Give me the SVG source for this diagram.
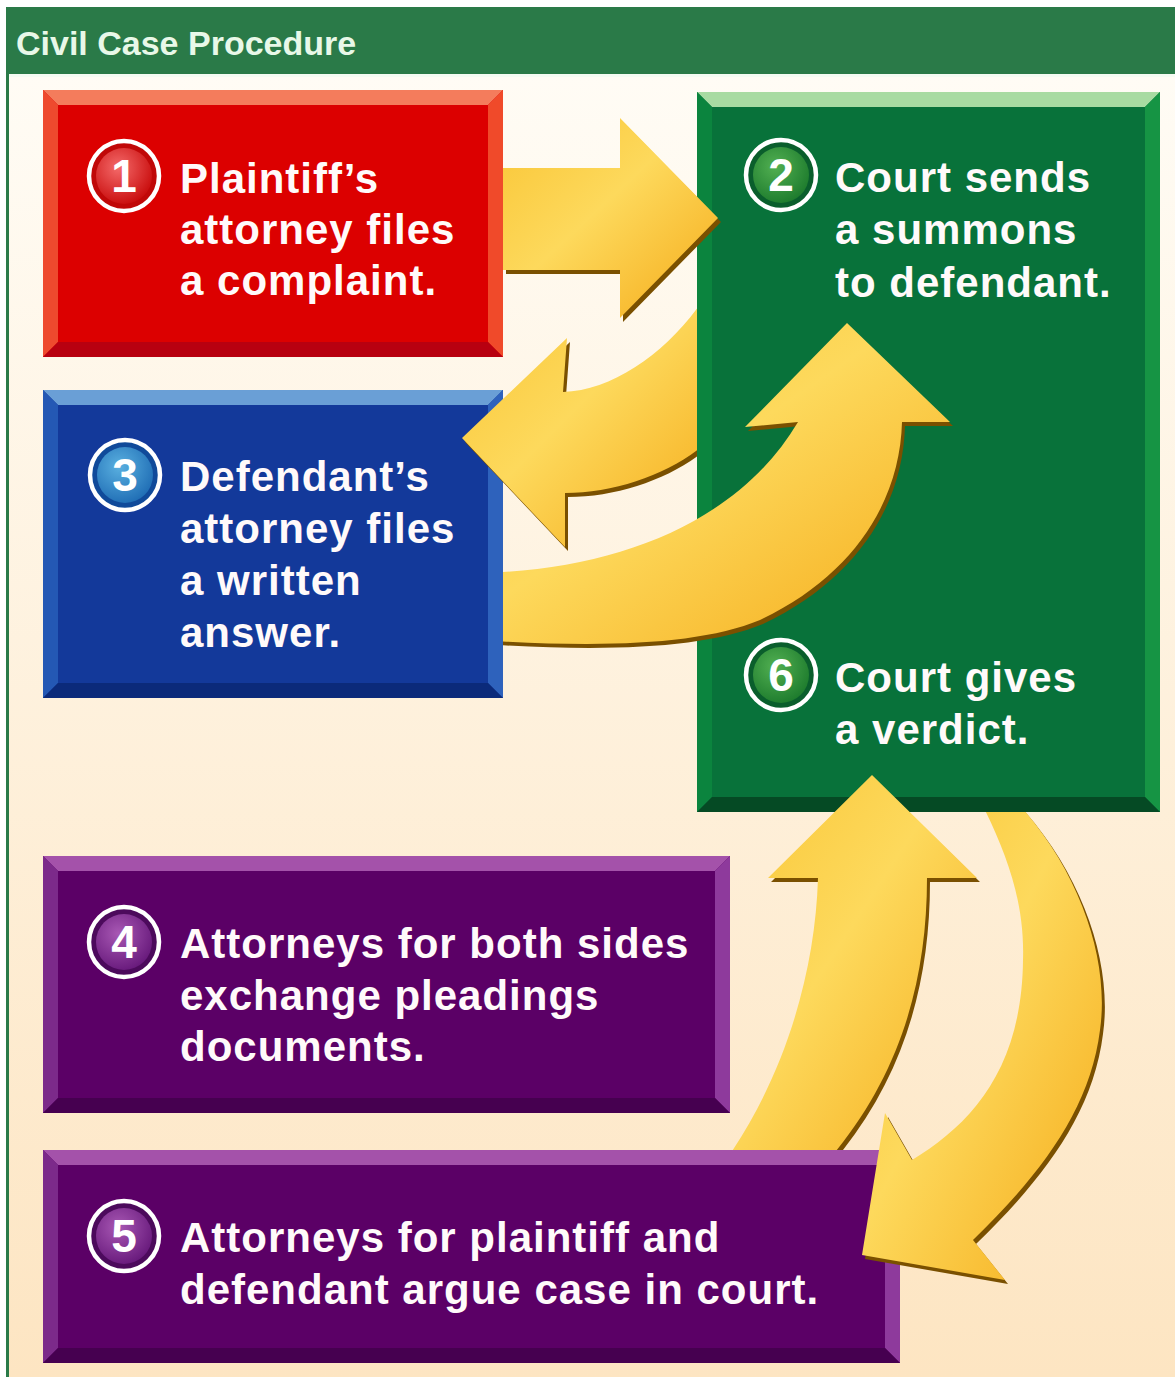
<svg xmlns="http://www.w3.org/2000/svg" xmlns:xlink="http://www.w3.org/1999/xlink" width="1175" height="1377" viewBox="0 0 1175 1377">
<defs>
<style>
.t{font-family:"Liberation Sans",Arial,sans-serif;font-weight:bold;font-size:42px;fill:#fffafa;letter-spacing:1px}
.n{font-family:"Liberation Sans",Arial,sans-serif;font-weight:bold;font-size:46px;fill:#ffffff;text-anchor:middle}
.ttl{font-family:"Liberation Sans",Arial,sans-serif;font-weight:bold;font-size:34px;fill:#e8f8e8}
.ring{stroke:#ffffff;stroke-width:4.5}
.gold{fill:url(#goldG)}
.shd{fill:#7a5000}
.rf{fill:#dc0000}.rt{fill:#f47c5c}.rl{fill:#ee4a2e}.rr{fill:#f04a2a}.rb{fill:#b80010}
.gf{fill:#08723a}.gt{fill:#a8dba2}.gl{fill:#0b843e}.gr{fill:#169444}.gb{fill:#054a24}
.bf{fill:#13399a}.bt{fill:#6a9fd6}.bl{fill:#2458b4}.br{fill:#2e62bc}.bb{fill:#0b2a7a}
.pf{fill:#5b0066}.pt{fill:#a452aa}.pl{fill:#7c2a8a}.pr{fill:#8e3a9c}.pb{fill:#460050}
</style>
<linearGradient id="bgG" x1="0" y1="0" x2="0" y2="1">
<stop offset="0" stop-color="#fffcf5"/><stop offset="1" stop-color="#fde5c2"/>
</linearGradient>
<linearGradient id="goldG" x1="0" y1="0" x2="1" y2="1">
<stop offset="0" stop-color="#f9c535"/><stop offset="0.45" stop-color="#fdd95c"/><stop offset="1" stop-color="#f5aa18"/>
</linearGradient>
<radialGradient id="cR" cx="0.4" cy="0.35" r="0.7"><stop offset="0" stop-color="#f46a6a"/><stop offset="1" stop-color="#c80a0a"/></radialGradient>
<radialGradient id="cG" cx="0.4" cy="0.35" r="0.7"><stop offset="0" stop-color="#52b052"/><stop offset="1" stop-color="#1c7a2c"/></radialGradient>
<radialGradient id="cB" cx="0.4" cy="0.35" r="0.7"><stop offset="0" stop-color="#5ab0e0"/><stop offset="1" stop-color="#1e6cb4"/></radialGradient>
<radialGradient id="cP" cx="0.4" cy="0.35" r="0.7"><stop offset="0" stop-color="#a858b4"/><stop offset="1" stop-color="#66187a"/></radialGradient>
<clipPath id="clipB"><rect x="0" y="0" width="697" height="1377"/></clipPath>
<clipPath id="clipC"><rect x="503" y="0" width="672" height="1377"/></clipPath>
<clipPath id="clipD"><rect x="0" y="0" width="1175" height="1150"/></clipPath>
<clipPath id="clipE"><rect x="0" y="812" width="1175" height="565"/></clipPath>
<path id="pA" d="M503,168 L620,168 L620,118 L718,218 L620,318 L620,270 L503,270 Z"/>
<path id="pB" d="M462,438 L567,338 L563,392 C615,390 670,350 705,297 L712,437 C680,470 620,493 565,493 L565,547 Z"/>
<path id="pC" d="M480,573 C620,570 740,520 798,422 L745,427 L847,323 L950,422 L902,422 C900,500 855,575 760,620 C700,645 600,648 480,640 Z"/>
<path id="pD" d="M872,775 L977,878 L927,878 C927,990 895,1090 815,1175 L715,1175 C780,1090 815,980 818,878 L768,878 Z"/>
<path id="pE" d="M980,800 L1015,800 C1080,870 1110,960 1100,1030 C1090,1110 1040,1175 973,1240 L1005,1280 L862,1255 L885,1113 L912,1160 C970,1125 1022,1070 1023,960 C1025,900 1005,850 980,800 Z"/>
</defs>

<rect x="0" y="0" width="1175" height="1377" fill="#ffffff"/>
<rect x="9" y="75" width="1166" height="1302" fill="url(#bgG)"/>
<rect x="6" y="7" width="3" height="1370" fill="#2a7a48"/>
<rect x="6" y="7" width="1169" height="67" fill="#2a7a48"/>
<rect x="9" y="74" width="1166" height="3" fill="#f4fbf2"/>
<text class="ttl" x="16" y="55">Civil Case Procedure</text>

<g id="node1">
<rect class="rf" x="43" y="90" width="460" height="267"/>
<polygon class="rt" points="43,90 503,90 488,105 58,105"/>
<polygon class="rl" points="43,90 58,105 58,342 43,357"/>
<polygon class="rr" points="503,90 503,357 488,342 488,105"/>
<polygon class="rb" points="43,357 503,357 488,342 58,342"/>
<circle class="ring" cx="124" cy="176" r="35" fill="#c00808"/>
<circle cx="124" cy="176" r="28" fill="url(#cR)"/>
<text class="n" x="124" y="192">1</text>
<text class="t" x="180" y="193">Plaintiff’s</text>
<text class="t" x="180" y="244">attorney files</text>
<text class="t" x="180" y="295">a complaint.</text>
</g>

<g id="node3">
<rect class="bf" x="43" y="390" width="460" height="308"/>
<polygon class="bt" points="43,390 503,390 488,405 58,405"/>
<polygon class="bl" points="43,390 58,405 58,683 43,698"/>
<polygon class="br" points="503,390 503,698 488,683 488,405"/>
<polygon class="bb" points="43,698 503,698 488,683 58,683"/>
<circle class="ring" cx="125" cy="475" r="35" fill="#104a9a"/>
<circle cx="125" cy="475" r="28" fill="url(#cB)"/>
<text class="n" x="125" y="491">3</text>
<text class="t" x="180" y="491">Defendant’s</text>
<text class="t" x="180" y="543">attorney files</text>
<text class="t" x="180" y="595">a written</text>
<text class="t" x="180" y="647">answer.</text>
</g>

<g id="node2">
<rect class="gf" x="697" y="92" width="463" height="720"/>
<polygon class="gt" points="697,92 1160,92 1145,107 712,107"/>
<polygon class="gl" points="697,92 712,107 712,797 697,812"/>
<polygon class="gr" points="1160,92 1160,812 1145,797 1145,107"/>
<polygon class="gb" points="697,812 1160,812 1145,797 712,797"/>
<circle class="ring" cx="781" cy="175" r="35" fill="#0a5e2c"/>
<circle cx="781" cy="175" r="28" fill="url(#cG)"/>
<text class="n" x="781" y="191">2</text>
<text class="t" x="835" y="192">Court sends</text>
<text class="t" x="835" y="244">a summons</text>
<text class="t" x="835" y="297">to defendant.</text>
</g>

<g id="node6">
<circle class="ring" cx="781" cy="675" r="35" fill="#0a5e2c"/>
<circle cx="781" cy="675" r="28" fill="url(#cG)"/>
<text class="n" x="781" y="691">6</text>
<text class="t" x="835" y="692">Court gives</text>
<text class="t" x="835" y="744">a verdict.</text>
</g>

<g id="node4">
<rect class="pf" x="43" y="856" width="687" height="257"/>
<polygon class="pt" points="43,856 730,856 715,871 58,871"/>
<polygon class="pl" points="43,856 58,871 58,1098 43,1113"/>
<polygon class="pr" points="730,856 730,1113 715,1098 715,871"/>
<polygon class="pb" points="43,1113 730,1113 715,1098 58,1098"/>
<circle class="ring" cx="124" cy="942" r="35" fill="#4c0a5c"/>
<circle cx="124" cy="942" r="28" fill="url(#cP)"/>
<text class="n" x="124" y="958">4</text>
<text class="t" x="180" y="958">Attorneys for both sides</text>
<text class="t" x="180" y="1010">exchange pleadings</text>
<text class="t" x="180" y="1061">documents.</text>
</g>

<g id="node5">
<rect class="pf" x="43" y="1150" width="857" height="213"/>
<polygon class="pt" points="43,1150 900,1150 885,1165 58,1165"/>
<polygon class="pl" points="43,1150 58,1165 58,1348 43,1363"/>
<polygon class="pr" points="900,1150 900,1363 885,1348 885,1165"/>
<polygon class="pb" points="43,1363 900,1363 885,1348 58,1348"/>
<circle class="ring" cx="124" cy="1236" r="35" fill="#4c0a5c"/>
<circle cx="124" cy="1236" r="28" fill="url(#cP)"/>
<text class="n" x="124" y="1252">5</text>
<text class="t" x="180" y="1252">Attorneys for plaintiff and</text>
<text class="t" x="180" y="1304">defendant argue case in court.</text>
</g>

<g id="connectors">
<g id="arrow1to2">
<use xlink:href="#pA" class="shd" transform="translate(3,4)"/>
<use xlink:href="#pA" class="gold"/>
</g>
<g id="arrow2to3" clip-path="url(#clipB)">
<use xlink:href="#pB" class="shd" transform="translate(3,4)"/>
<use xlink:href="#pB" class="gold"/>
</g>
<g id="arrow3to2" clip-path="url(#clipC)">
<use xlink:href="#pC" class="shd" transform="translate(3,4)"/>
<use xlink:href="#pC" class="gold"/>
</g>
<g id="arrow5to6" clip-path="url(#clipD)">
<use xlink:href="#pD" class="shd" transform="translate(3,4)"/>
<use xlink:href="#pD" class="gold"/>
</g>
<g id="arrow6to5" clip-path="url(#clipE)">
<use xlink:href="#pE" class="shd" transform="translate(3,4)"/>
<use xlink:href="#pE" class="gold"/>
</g>
</g>
</svg>
